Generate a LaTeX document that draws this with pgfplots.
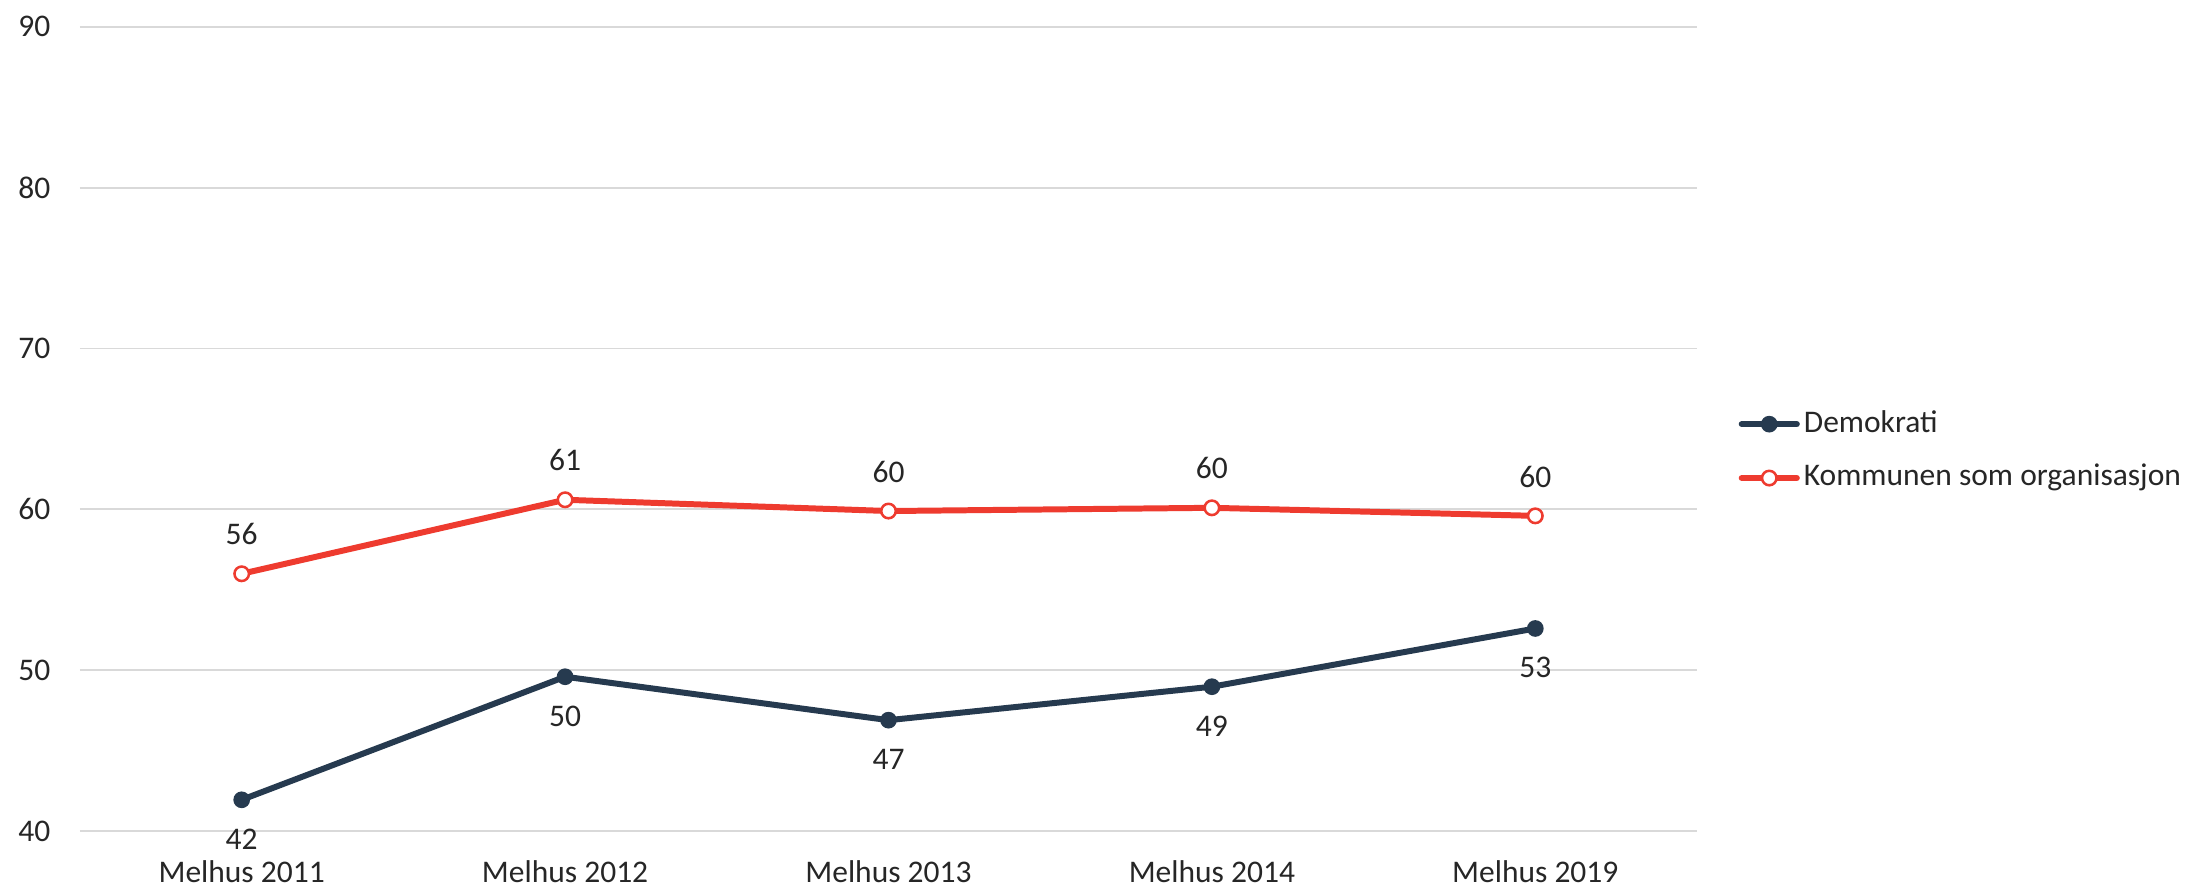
\documentclass[border=0pt]{standalone}
\usepackage{fontspec}
\setmainfont{Carlito}
\usepackage{pgfplots}
\pgfplotsset{compat=1.18}
\definecolor{navy}{HTML}{263A4F}
\definecolor{redc}{HTML}{EE3B2F}
\definecolor{gridc}{HTML}{D9D9D9}
\definecolor{textc}{HTML}{262626}
\begin{document}
\begin{tikzpicture}
\begin{axis}[
  at={(0,0)}, anchor=south west,
  scale only axis,
  width=513.4pt, height=255.4pt,
  xmin=-0.5, xmax=4.5,
  ymin=40, ymax=90,
  xtick={0,1,2,3,4},
  xticklabels={Melhus 2011,Melhus 2012,Melhus 2013,Melhus 2014,Melhus 2019},
  ytick={40,50,60,70,80,90},
  ymajorgrids,
  grid style={gridc, line width=0.6pt},
  axis line style={draw=none},
  tick style={draw=none},
  font=\fontsize{10}{12}\selectfont,
  /pgf/number format/assume math mode=true,
  xticklabel style={anchor=base, yshift=-16.2pt, text=textc, font=\fontsize{10}{12}\selectfont},
  yticklabel style={anchor=east, inner sep=0pt, xshift=-9.2pt, text=textc, font=\fontsize{10}{12}\selectfont},
  legend style={draw=none, fill=none, at={(1.0254,0.4725)}, anchor=west, inner sep=0pt,
    nodes={inner sep=0pt, text height=7pt, text depth=2pt, text=textc, font=\fontsize{10}{12}\selectfont},
    row sep=8.1pt,
    /tikz/every odd column/.append style={column sep=1.3pt}},
  legend cell align=left,
  legend image code/.code={
    \draw[#1, mark=none, line cap=round] (0pt,0pt) -- (17.5pt,0pt);
    \draw[#1, only marks] plot coordinates {(8.75pt,0pt)};
  },
  clip=false,
]
\addplot[navy, line width=1.9pt, mark=*, mark size=2.4pt, mark options={solid, fill=navy, draw=navy, line width=0.5pt},
  nodes near coords={\pgfmathprintnumber[fixed,precision=0]{\pgfplotspointmeta}},
  point meta=y,
  every node near coord/.append style={anchor=center, yshift=-12.5pt, text=textc, font=\fontsize{10}{12}\selectfont}]
coordinates {(0,41.95) (1,49.6) (2,46.9) (3,48.98) (4,52.6)};
\addlegendentry{Demokrati}
\addplot[redc, line width=1.9pt, mark=*, mark size=2.3pt, mark options={solid, fill=white, draw=redc, line width=0.8pt},
  nodes near coords={\pgfmathprintnumber[fixed,precision=0]{\pgfplotspointmeta}},
  point meta=y,
  every node near coord/.append style={anchor=center, yshift=12.5pt, text=textc, font=\fontsize{10}{12}\selectfont}]
coordinates {(0,56.0) (1,60.6) (2,59.9) (3,60.1) (4,59.6)};
\addlegendentry{Kommunen som organisasjon}
\end{axis}
\pgfresetboundingbox
\path (-25.4pt,-17.8pt) rectangle (669.3pt,263.9pt);
\end{tikzpicture}
\end{document}
